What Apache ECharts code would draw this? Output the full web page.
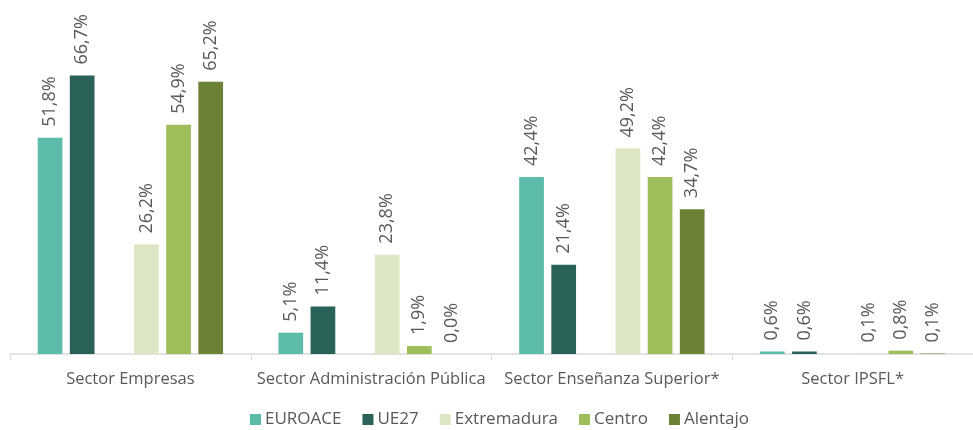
<!DOCTYPE html>
<html>
<head>
<meta charset="utf-8">
<script src="https://cdn.jsdelivr.net/npm/echarts@6/dist/echarts.min.js"></script>
<style>
  html, body { margin: 0; padding: 0; background: #fff; }
  #chart { width: 973px; height: 430px; }
</style>
</head>
<body>
<div id="chart"></div>
<script>
// Sectors on the category axis
const categories = ['Sector Empresas', 'Sector Administración Pública', 'Sector Enseñanza Superior*', 'Sector IPSFL*'];

// Share of R&D spending per sector (%)
const euroace     = [51.8, 5.1, 42.4, 0.6];
const ue27        = [66.7, 11.4, 21.4, 0.6];
const extremadura = [26.2, 23.8, 49.2, 0.1];
const centro      = [54.9, 1.9, 42.4, 0.8];
const alentajo    = [65.2, 0.0, 34.7, 0.1];

const seriesNames = ['EUROACE', 'UE27', 'Extremadura', 'Centro', 'Alentajo'];
const seriesColors = ['#5CBBA9', '#2A6158', '#DCE6C4', '#9DBE5A', '#6A8136'];

const FONT = '"Open Sans", "Noto Sans", sans-serif';
const TEXT = '#595959';

function fmt(p) {
  return p.value.toFixed(1).replace('.', ',') + '%';
}

function barSeries(name, data, color) {
  return {
    name: name,
    type: 'bar',
    data: data,
    barGap: '30%',
    barCategoryGap: '23%',
    itemStyle: { color: color },
    label: {
      show: true,
      position: 'top',
      rotate: 90,
      align: 'left',
      verticalAlign: 'middle',
      distance: 11,
      color: TEXT,
      fontFamily: FONT,
      fontSize: 18,
      formatter: fmt
    }
  };
}

// Spacer series leaves an empty slot between the EU-level and regional bars
const spacer = {
  name: 'spacer',
  type: 'bar',
  data: categories.map(() => null),
  barGap: '30%',
  barCategoryGap: '23%',
  silent: true
};

const series = [
  barSeries(seriesNames[0], euroace, seriesColors[0]),
  barSeries(seriesNames[1], ue27, seriesColors[1]),
  spacer,
  barSeries(seriesNames[2], extremadura, seriesColors[2]),
  barSeries(seriesNames[3], centro, seriesColors[3]),
  barSeries(seriesNames[4], alentajo, seriesColors[4])
];

const chart = echarts.init(document.getElementById('chart'));
chart.setOption({
  animation: false,
  grid: { left: 10, right: -14, top: 20, bottom: 76 },
  legend: {
    data: seriesNames,
    left: 250,
    top: 411,
    padding: 0,
    icon: 'rect',
    itemWidth: 11,
    itemHeight: 11,
    itemGap: 21,
    textStyle: { color: TEXT, fontFamily: FONT, fontSize: 17, padding: [0, 0, 0, -1] }
  },
  xAxis: {
    type: 'category',
    data: categories,
    axisLine: { lineStyle: { color: '#D9D9D9', width: 1.5 } },
    axisTick: { show: true, length: 6, lineStyle: { color: '#D9D9D9' } },
    axisLabel: { interval: 0, color: TEXT, fontFamily: FONT, fontSize: 16.5, margin: 17 }
  },
  yAxis: {
    type: 'value',
    min: 0,
    max: 80,
    show: false,
    splitLine: { show: false }
  },
  series: series
});
</script>
</body>
</html>
